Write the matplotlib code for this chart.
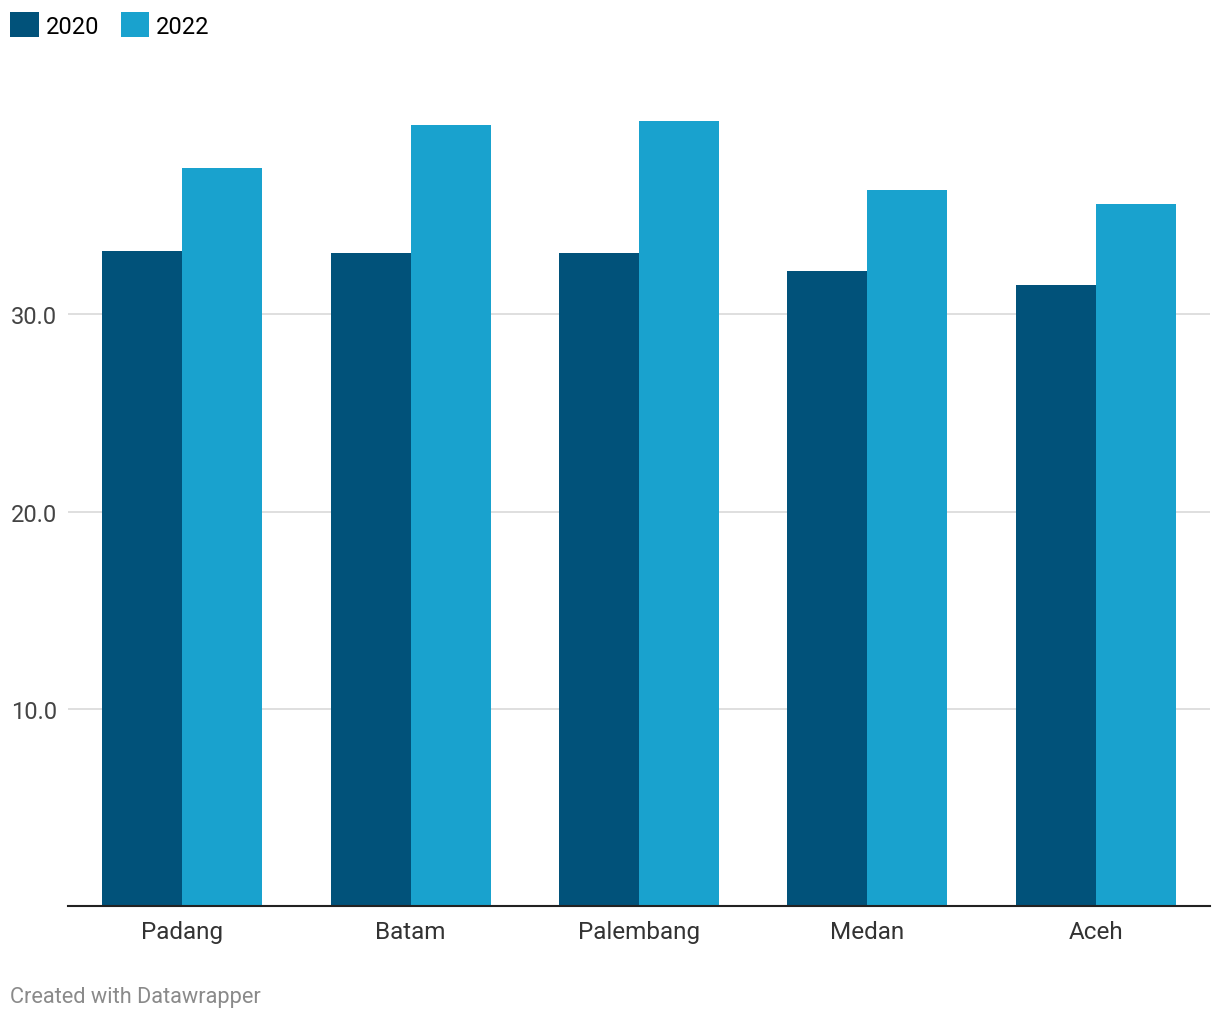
import numpy as np
import matplotlib.pyplot as plt

plt.rcParams['font.family'] = ['Roboto', 'DejaVu Sans']

# data
cities = ['Padang', 'Batam', 'Palembang', 'Medan', 'Aceh']
v2020 = [33.2, 33.1, 33.1, 32.2, 31.5]
v2022 = [37.4, 39.6, 39.8, 36.3, 35.6]
yticks = [10, 20, 30]

dark = '#01527a'
light = '#19a2ce'

fig = plt.figure(figsize=(12.2, 10.2), dpi=100)
ax = fig.add_axes([68/1220, 113/1020, 1142/1220, 789/1020])

x = np.arange(len(cities))
w = 0.35
b1 = ax.bar(x - w/2, v2020, w, color=dark, label='2020', zorder=2)
b2 = ax.bar(x + w/2, v2022, w, color=light, label='2022', zorder=2)

ax.set_xlim(-0.5, len(cities) - 0.5)
ax.set_ylim(0, 40)
ax.set_yticks(yticks)
ax.set_yticklabels([f'{t:.1f}' for t in yticks])
ax.set_xticks(x)
ax.set_xticklabels(cities)
ax.yaxis.grid(True, color='#d9d9d9', linewidth=1.2, zorder=0)
for s in ['top', 'right', 'left']:
    ax.spines[s].set_visible(False)
ax.spines['bottom'].set_color('#222222')
ax.spines['bottom'].set_linewidth(1.5)
ax.spines['bottom'].set_zorder(3)
ax.tick_params(axis='y', length=0, pad=8, labelsize=17, labelcolor='#444444')
ax.tick_params(axis='x', length=0, pad=10, labelsize=17.5, labelcolor='#333333')

fig.legend(handles=[b1, b2], loc='upper left', bbox_to_anchor=(-0.005, 1.003),
           frameon=False, fontsize=17, ncol=2, handlelength=1.2,
           handleheight=1.2, handletextpad=0.3, columnspacing=0.9,
           borderaxespad=0.3)

fig.text(10/1220, 1 - 998/1020, 'Created with Datawrapper', fontsize=15.7,
         color='#8a8a8a', va='center', ha='left')

fig.savefig('out.png', dpi=100, facecolor='white')
